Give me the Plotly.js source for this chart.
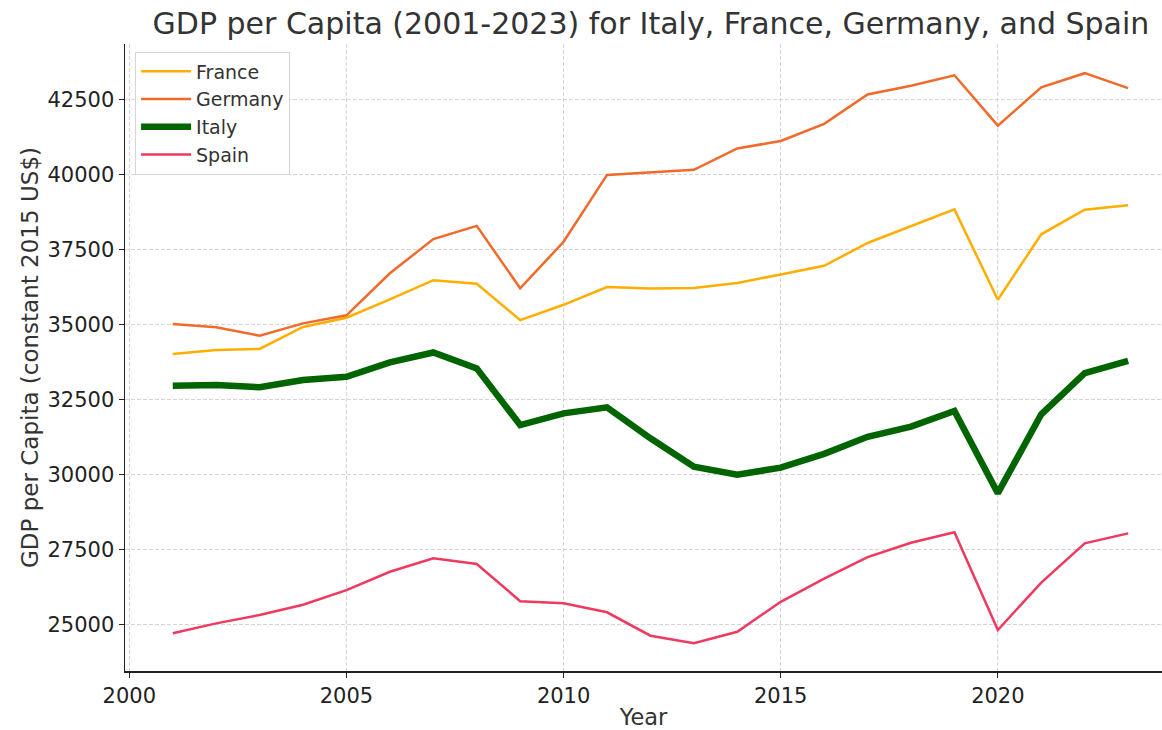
<!DOCTYPE html>
<html>
<head>
<meta charset="utf-8">
<script src="https://cdn.plot.ly/plotly-3.0.1.min.js"></script>
<style>html,body{margin:0;padding:0;background:#fff;}#chart{width:1162px;height:730px;}</style>
</head>
<body>
<div id="chart"></div>
<script>
var years = [2001,2002,2003,2004,2005,2006,2007,2008,2009,2010,2011,2012,2013,2014,2015,2016,2017,2018,2019,2020,2021,2022,2023];
var france  = [34010,34140,34180,34910,35220,35830,36470,36350,35140,35650,36240,36190,36210,36380,36660,36950,37710,38270,38830,35820,38000,38820,38970];
var germany = [35010,34900,34620,35030,35300,36700,37840,38280,36200,37750,39980,40060,40150,40860,41110,41680,42660,42950,43300,41620,42900,43370,42870];
var italy   = [32950,32980,32900,33140,33250,33730,34060,33530,31640,32030,32230,31200,30250,29990,30220,30680,31250,31590,32110,29370,32000,33370,33780];
var spain   = [24700,25030,25310,25650,26140,26750,27200,27010,25770,25700,25400,24620,24370,24750,25750,26520,27240,27720,28070,24810,26390,27700,28030];
var seriesNames = ["France","Germany","Italy","Spain"];
var xTicks = [2000,2005,2010,2015,2020];
var yTicks = [25000,27500,30000,32500,35000,37500,40000,42500];

var traces = [
  {x: years, y: france,  name: seriesNames[0], legendgroup: "a", type: "scatter", mode: "lines", line: {color: "#FFAE00", width: 2.5}},
  {x: years, y: germany, name: seriesNames[1], legendgroup: "b", type: "scatter", mode: "lines", line: {color: "#F26A2A", width: 2.5}},
  {x: years, y: italy,   name: seriesNames[2], legendgroup: "c", type: "scatter", mode: "lines", line: {color: "#006400", width: 6.5}},
  {x: years, y: spain,   name: seriesNames[3], legendgroup: "d", type: "scatter", mode: "lines", line: {color: "#EE3A5F", width: 2.5}}
];

var layout = {
  width: 1162, height: 730,
  margin: {l: 125, r: 0, t: 44, b: 59, pad: 0},
  paper_bgcolor: "#ffffff", plot_bgcolor: "#ffffff",
  font: {family: "DejaVu Sans, sans-serif", color: "#333333"},
  title: {text: "GDP per Capita (2001-2023) for Italy, France, Germany, and Spain",
          font: {size: 30, color: "#333333"}, x: 0.5602, xref: "container", xanchor: "center",
          y: 0.968, yref: "container", yanchor: "middle"},
  xaxis: {
    range: [1999.9, 2023.78], tickmode: "array", tickvals: xTicks,
    ticktext: xTicks.map(String),
    showgrid: true, gridcolor: "#cccccc", griddash: "4px,2px", gridwidth: 0.8,
    zeroline: false, showline: true, linecolor: "#222222", linewidth: 1.5,
    ticks: "outside", ticklen: 5, tickwidth: 1.2, tickcolor: "#222222",
    tickfont: {size: 21, color: "#222222"},
    title: {text: "Year", font: {size: 22.5, color: "#333333"}, standoff: 6}
  },
  yaxis: {
    range: [23443, 44343], tickmode: "array",
    tickvals: yTicks, ticktext: yTicks.map(String),
    showgrid: true, gridcolor: "#cccccc", griddash: "4px,2px", gridwidth: 0.8,
    zeroline: false, showline: true, linecolor: "#222222", linewidth: 1.5,
    ticks: "outside", ticklen: 5, tickwidth: 1.2, tickcolor: "#222222",
    tickfont: {size: 21, color: "#222222"},
    title: {text: "GDP per Capita (constant 2015 US$)", font: {size: 23, color: "#333333"}, standoff: 2}
  },
  showlegend: true,
  legend: {x: 0.0097, y: 0.988, xanchor: "left", yanchor: "top",
           bgcolor: "rgba(255,255,255,0.9)", bordercolor: "#d5d5d5", borderwidth: 1,
           font: {size: 19, color: "#333333"}, tracegroupgap: 0, itemwidth: 50}
};

Plotly.newPlot("chart", traces, layout, {displayModeBar: false, staticPlot: true});
</script>
</body>
</html>
